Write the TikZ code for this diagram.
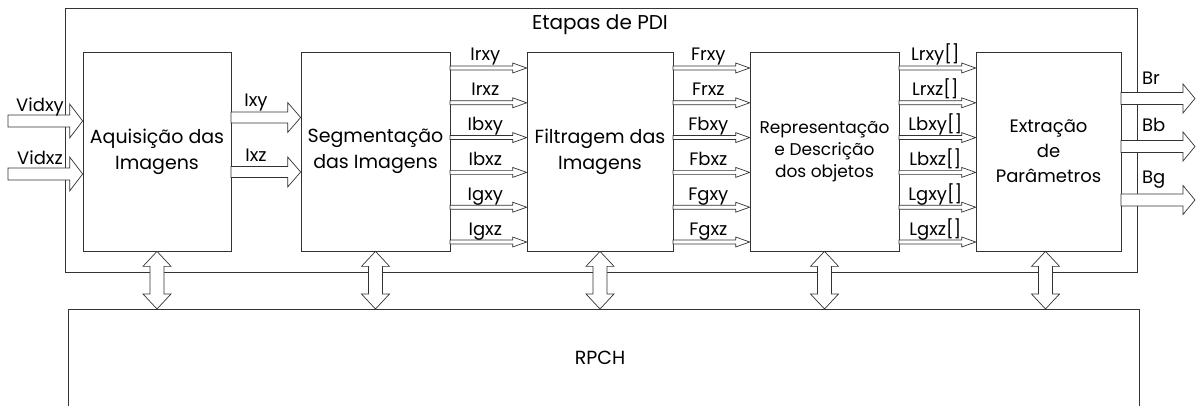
\documentclass[tikz,border=0pt]{standalone}
\usepackage{fontspec}
\setmainfont{Poppins}
\usetikzlibrary{calc}
\tikzset{
  ln/.style={draw=black!80, line width=0.7pt},
  blk/.style={ln, fill=white},
  stage/.style={ln, inner sep=0pt, align=center, minimum height=199pt},
  boxtxt/.style={font=\fontsize{19}{26}\selectfont},
  lab/.style={font=\fontsize{18}{20}\selectfont, inner sep=0pt},
}
\newcommand{\harr}[5]{%
  \path[blk] let \p1=(#1), \p2=(#2) in
    (\x1,\y1+#3) -- (\x2-#5,\y1+#3) -- (\x2-#5,\y1+#4) -- (\x2,\y1)
    -- (\x2-#5,\y1-#4) -- (\x2-#5,\y1-#3) -- (\x1,\y1-#3) -- cycle;}
\newcommand{\vdarr}[2]{%
  \path[blk] let \p1=(#1), \p2=(#2) in
    (\x1,\y1) -- (\x1+14pt,\y1-15pt) -- (\x1+7pt,\y1-15pt) -- (\x1+7pt,\y2+15pt)
    -- (\x1+14pt,\y2+15pt) -- (\x1,\y2) -- (\x1-14pt,\y2+15pt) -- (\x1-7pt,\y2+15pt)
    -- (\x1-7pt,\y1-15pt) -- (\x1-14pt,\y1-15pt) -- cycle;}
\begin{document}
\begin{tikzpicture}[x=1pt,y=-1pt]
\useasboundingbox (0,0) rectangle (1199,406);
% outer frame
\node[ln, inner sep=0pt, minimum width=1072pt, minimum height=264pt] (frame) at (601,140) {};
\node[font=\fontsize{20}{24}\selectfont] (title) at (600,25) {Etapas de PDI};
% RPCH
\coordinate (rbl) at (68,406);
\coordinate (rtl) at (68,309);
\coordinate (rtr) at (1139,309);
\coordinate (rbr) at (1139,406);
\draw[ln] (rbl) -- (rtl) -- (rtr) -- (rbr);
\node[font=\fontsize{19}{24}\selectfont] (rpch) at (600,358) {RPCH};
% stages
\node[stage, boxtxt, minimum width=148pt] (aq) at (157,151.5) {Aquisição das\\Imagens};
\node[stage, boxtxt, minimum width=149pt] (seg) at (375.5,151.5) {Segmentação\\das Imagens};
\node[stage, boxtxt, minimum width=146pt] (filt) at (600,151.5) {Filtragem das\\Imagens};
\node[stage, font=\fontsize{17}{22}\selectfont, minimum width=149pt] (rep) at (824.5,151.5) {Representação\\e Descrição\\dos objetos};
\node[stage, font=\fontsize{18}{25}\selectfont, minimum width=145pt] (ext) at (1048.5,151.5) {Extração\\de\\Parâmetros};
% inputs
\coordinate (vin1) at (8,121);
\coordinate (vin2) at (8,174);
\harr{vin1}{aq.west |- vin1}{6pt}{17pt}{13pt}
\harr{vin2}{aq.west |- vin2}{6pt}{17pt}{13pt}
\node[lab, anchor=base] (lvidxy) at (40,112) {Vidxy};
\node[lab, anchor=base] (lvidxz) at (40,165) {Vidxz};
% aq -> seg
\coordinate (ixy) at (231,117.5);
\coordinate (ixz) at (231,172);
\harr{ixy}{seg.west |- ixy}{5.5pt}{15pt}{13pt}
\harr{ixz}{seg.west |- ixz}{5.5pt}{15pt}{13pt}
\node[lab, anchor=base] (lixy) at (256,107) {Ixy};
\node[lab, anchor=base] (lixz) at (256,162) {Ixz};
% seg -> filt
\foreach \lab [count=\i from 0] in {Irxy,Irxz,Ibxy,Ibxz,Igxy,Igxz}{
  \coordinate (s\i) at (450,{68+34.8*\i});
  \harr{s\i}{filt.west |- s\i}{2pt}{5pt}{14pt}
  \node[lab, anchor=base] at ($(s\i)!.5!(filt.west |- s\i)+(-3,-7)$) {\lab};
}
% filt -> rep
\foreach \lab [count=\i from 0] in {Frxy,Frxz,Fbxy,Fbxz,Fgxy,Fgxz}{
  \coordinate (f\i) at (673,{68+34.8*\i});
  \harr{f\i}{rep.west |- f\i}{2pt}{5pt}{14pt}
  \node[lab, anchor=base] at ($(f\i)!.5!(rep.west |- f\i)+(-3,-7)$) {\lab};
}
% rep -> ext
\foreach \lab [count=\i from 0] in {Lrxy[],Lrxz[],Lbxy[],Lbxz[],Lgxy[],Lgxz[]}{
  \coordinate (r\i) at (899,{68+34.8*\i});
  \harr{r\i}{ext.west |- r\i}{2pt}{5pt}{14pt}
  \node[lab, anchor=base] at ($(r\i)!.5!(ext.west |- r\i)+(-2,-7)$) {\lab};
}
% outputs
\coordinate (o1) at (1121,98.5);
\coordinate (o2) at (1121,146.5);
\coordinate (o3) at (1121,200);
\coordinate (t1) at (1195,98.5);
\coordinate (t2) at (1195,146.5);
\coordinate (t3) at (1195,200);
\harr{o1}{t1}{6pt}{14.5pt}{12pt}
\harr{o2}{t2}{6pt}{14.5pt}{12pt}
\harr{o3}{t3}{6pt}{14.5pt}{12pt}
\node[lab, anchor=base west] (lbr) at (1142,85) {Br};
\node[lab, anchor=base west] (lbb) at (1142,132) {Bb};
\node[lab, anchor=base west] (lbg) at (1142,184) {Bg};
% bidirectional bus arrows
\vdarr{aq.south}{aq.south |- rtl}
\vdarr{seg.south}{seg.south |- rtl}
\vdarr{filt.south}{filt.south |- rtl}
\vdarr{rep.south}{rep.south |- rtl}
\coordinate (extb) at ($(ext.south)+(-3,0)$);
\vdarr{extb}{extb |- rtl}
\end{tikzpicture}
\end{document}
